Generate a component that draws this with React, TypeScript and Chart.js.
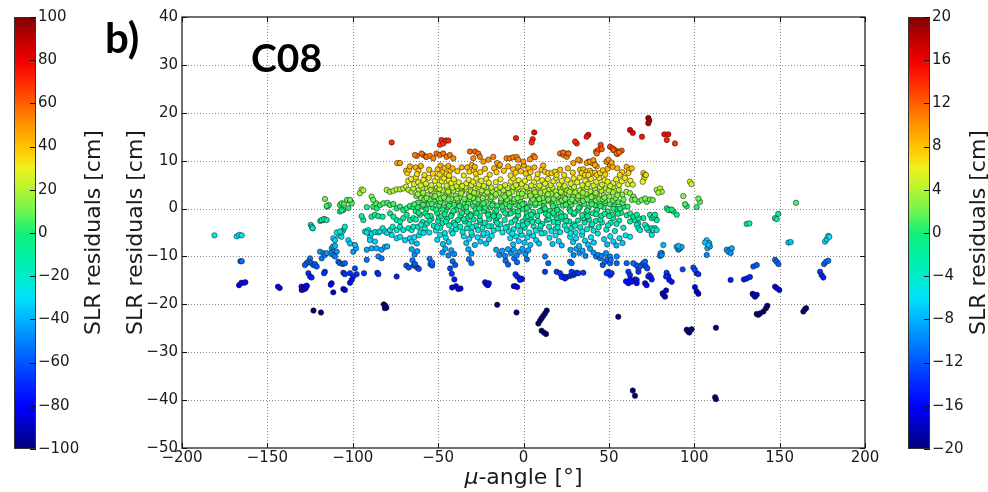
import React, { useEffect, useRef } from "react";
import { Chart, registerables } from "chart.js";

Chart.register(...registerables);

// ---------- axes / colour scales ----------
const X_TICKS = [-200, -150, -100, -50, 0, 50, 100, 150, 200];
const Y_TICKS = [-50, -40, -30, -20, -10, 0, 10, 20, 30, 40];
const LEFT_BAR_TICKS = [-100, -80, -60, -40, -20, 0, 20, 40, 60, 80, 100];
const RIGHT_BAR_TICKS = [-20, -16, -12, -8, -4, 0, 4, 8, 12, 16, 20];
const COLOR_MIN = -20;
const COLOR_MAX = 20;
const AXIS_LABEL = "SLR residuals [cm]";
const X_LABEL_SYMBOL = "\u03bc";
const X_LABEL_REST = "-angle [\u00b0]";
const PANEL_LETTER = "b)";
const STATION = "C08";

// colour map stops (position 0..1 over COLOR_MIN..COLOR_MAX)
const CMAP_POS = [0, 0.05, 0.1, 0.15, 0.2, 0.25, 0.3, 0.35, 0.4, 0.45, 0.5, 0.55, 0.6, 0.65, 0.7, 0.75, 0.8, 0.85, 0.9, 0.95, 1];
const CMAP_RGB = [
  [0, 0, 120], [0, 0, 190], [0, 0, 255], [0, 40, 255], [0, 85, 255], [0, 130, 255], [0, 180, 255],
  [0, 225, 250], [0, 235, 200], [0, 240, 160], [20, 240, 120], [110, 245, 80], [180, 245, 50],
  [240, 240, 30], [255, 195, 0], [255, 150, 0], [255, 95, 0], [255, 40, 0], [240, 0, 0], [190, 0, 0], [128, 0, 0],
];

// ---------- data: [mu-angle, residual] pairs, flat ----------
const orangeTop = [
  -77.2, 13.8, -62.5, 11.0, -58.7, 11.2, -57.1, 10.8, -63.6, 11.2, -59.7, 11.5, -56.7, 10.8, -54.8, 11.0,
  -52.8, 10.5, -50.9, 11.5, -48.9, 11.2, -47.0, 11.5, -45.0, 10.8, -43.1, 11.2, -41.1, 10.5, -31.4, 11.9,
  -28.4, 11.9, -26.5, 11.5, -25.5, 10.8, -29.4, 10.5, -23.5, 9.8, -20.6, 10.2, -17.7, 10.8, -15.4, 9.5,
  -13.8, 9.1, -9.9, 10.5, -7.9, 10.5, -6.0, 10.7, -4.0, 10.8, -3.1, 10.2,
  -49.0, 13.3, -48.0, 14.3, -47.0, 13.6, -45.4, 14.2, -44.0, 14.2, -4.4, 14.7, 6.3, 15.9, 5.4, 14.5,
  4.8, 13.8, 38.0, 15.4, 37.0, 15.0, 31.2, 13.6, 30.2, 14.0, 62.4, 16.4, 64.0, 15.8, 73.1, 18.9,
  73.7, 18.4, 73.1, 17.8, 69.4, 15.0, 82.5, 15.5, 84.8, 15.5, 83.9, 14.3, 88.7, 13.6,
  42.5, 11.9, 43.8, 12.2, 45.2, 13.3, 45.8, 12.4, 42.9, 11.5, 50.7, 12.9, 52.2, 12.6, 53.6, 12.2,
  55.5, 11.9, 57.5, 12.1, 54.9, 11.4, 21.4, 11.5, 23.3, 11.2, 25.3, 10.8, 26.2, 11.5, 29.2, 9.5,
  33.1, 10.0, 37.0, 9.5, 38.9, 9.8, 40.9, 10.1, 41.9, 9.1, 48.7, 9.8, 5.8, 11.0, 6.7, 10.7,
  3.8, 10.3, -0.1, 9.8, 52.6, 12.2, 54.6, 11.5, 56.1, 11.7, 49.7, 10.2, 51.6, 9.6, 23.3, 11.7,
  26.3, 11.5, 32.1, 10.2, -73.9, 9.5, -72.3, 9.5,
];

const yellowHigh = [
  -63.2, 8.6, -61.5, 7.9, -62.4, 7.2, -60.1, 8.9, -50.3, 8.2, -48.6, 9.0, -47.5, 7.6, -46.2, 8.5,
  -45.1, 7.2, -44.0, 8.9, -42.8, 7.9, -41.5, 8.4, -43.6, 6.9, -49.2, 7.1, -33.0, 8.6, -31.6, 7.7,
  -30.4, 9.1, -29.1, 8.0, -27.8, 7.3, -28.5, 8.7, -17.2, 8.4, -15.8, 7.6, -14.2, 8.9, -6.1, 8.2,
  -4.6, 7.5, -3.2, 8.7, -1.5, 7.8, 0.2, 9.0, 1.4, 7.3, 2.9, 8.4, 4.1, 7.6, 10.6, 8.1,
  12.6, 7.7, 14.5, 7.4, 16.5, 7.4, 18.4, 7.7, 19.4, 7.0, 11.5, 9.0, 33.1, 8.1, 35.0, 8.2,
  37.0, 7.7, 38.9, 7.9, 39.9, 7.4, 41.9, 7.5, 42.9, 7.0, 44.8, 7.4, 34.1, 7.4, 36.0, 7.0,
  38.0, 7.0, 42.9, 8.8, 40.9, 9.6, 40.0, 9.5, 38.0, 9.8, 49.2, 8.3, 50.7, 9.1, 52.2, 8.7,
  48.7, 9.8, 57.8, 7.6, 60.4, 8.7, 62.0, 8.1, 63.4, 8.4, 61.4, 7.4, -68.8, 7.9, -68.0, 7.4,
  -67.0, 8.1, -66.5, 8.8, 70.2, 7.4, 71.2, 7.0, 71.7, 7.0,
  -58.0, 7.0, -55.3, 8.1, -53.1, 7.3, -38.7, 7.8, -36.2, 8.6, -35.0, 6.9, -25.3, 7.6, -22.6, 8.3,
  -19.8, 7.1, -11.5, 7.9, -9.0, 8.8, -7.6, 6.9, 6.4, 8.6, 8.3, 7.2, 21.5, 8.1, 23.8, 7.0,
  26.0, 8.4, 28.9, 7.5, 46.5, 8.0, 47.9, 7.1, 54.9, 8.4, 56.4, 7.0,
];

const yellowMid = [
  -67.5, 5.8, -65.8, 6.2, -64.1, 5.1, -63.0, 6.5, -61.7, 5.5, -60.2, 4.8, -58.6, 6.0, -57.1, 5.2,
  -55.5, 6.4, -54.0, 4.9, -51.9, 5.8, -50.4, 6.5, -49.3, 5.0, -47.8, 5.7, -46.5, 6.3, -45.0, 4.8,
  -43.7, 5.9, -42.3, 5.3, -40.8, 6.1, -39.2, 4.7, -37.9, 5.5, -33.5, 5.3, -32.0, 6.0, -30.6, 4.9,
  -29.4, 5.6, -27.6, 6.3, -26.1, 5.0, -24.7, 5.8, -23.2, 4.7, -21.8, 6.2, -20.3, 5.4, -7.5, 5.6,
  -6.0, 6.3, -4.4, 4.9, -2.8, 5.9, -1.1, 5.1, 6.2, 5.5, 7.9, 6.3, 9.4, 4.8, 11.0, 5.9,
  12.7, 5.2, 14.3, 6.2, 15.9, 4.9, 17.6, 5.7, 19.2, 6.4, 20.8, 5.0, 22.5, 5.8, 24.1, 4.7,
  25.8, 6.0, 31.4, 5.5, 32.9, 6.5, 34.5, 4.9, 36.2, 5.8, 37.8, 5.1, 39.5, 6.2, 41.0, 4.8,
  42.7, 5.6, 44.3, 6.4, 46.0, 5.0, 47.4, 5.9, 52.5, 5.3, 54.3, 6.1, 56.0, 4.9, 57.6, 5.7,
  59.4, 6.4, 61.1, 5.1, 62.6, 5.8, 70.6, 6.3, 69.8, 5.6, 97.5, 5.6, 98.3, 5.1,
  -35.9, 4.7, -16.2, 5.5, -13.5, 6.1, -10.8, 4.9, 0.9, 5.8, 3.3, 6.4, 4.6, 4.8, 27.7, 5.2,
  29.4, 6.3, 49.3, 5.6, 50.8, 4.7, 64.0, 5.0,
];

const limeBand = [
  -94.8, 4.0, -95.8, 3.2, -93.8, 3.8, -89.0, 2.5, -88.0, 1.8, -80.1, 3.9, -78.2, 3.5, -76.2, 3.7,
  -74.3, 4.0, -72.3, 4.0, -70.4, 4.2, -68.8, 4.6, -67.4, 3.9, -65.5, 3.5, -64.5, 4.2, -101.6, 1.8,
  -62.8, 2.6, -61.3, 3.9, -60.0, 2.2, -58.7, 3.3, -57.5, 4.3, -56.2, 2.8, -55.0, 1.9, -53.6, 3.6,
  -52.4, 2.4, -51.1, 4.1, -49.8, 3.0, -48.5, 2.1, -47.3, 3.8, -46.0, 2.6, -44.8, 4.3, -43.5, 3.2,
  -42.2, 2.0, -41.0, 3.7, -39.7, 2.7, -38.4, 4.1, -37.2, 2.3, -35.9, 3.5, -34.6, 2.0, -33.4, 4.0,
  -32.1, 2.9, -30.8, 3.6, -29.6, 2.2, -28.3, 4.2, -27.0, 3.0, -25.7, 2.4, -24.5, 3.8, -23.2, 2.7,
  -21.9, 4.4, -20.6, 3.1, -19.4, 2.0, -18.1, 3.6, -16.8, 2.5, -15.5, 4.0, -14.3, 3.3, -13.0, 2.1,
  -11.7, 3.8, -10.4, 2.8, -9.2, 4.3, -7.9, 2.3, -6.6, 3.5, -5.3, 2.0, -4.1, 4.1, -2.8, 3.0,
  -1.5, 2.4, -0.2, 3.7, 1.1, 2.6, 2.3, 4.2, 3.6, 3.2, 4.9, 2.1, 6.2, 3.9, 7.4, 2.8,
  8.7, 4.4, 10.0, 3.3, 11.3, 2.2, 12.5, 3.7, 13.8, 2.6, 15.1, 4.0, 16.4, 3.1, 17.6, 2.0,
  18.9, 3.6, 20.2, 2.5, 21.5, 4.3, 22.7, 3.2, 24.0, 2.3, 25.3, 3.9, 26.6, 2.9, 27.8, 4.1,
  29.1, 2.4, 30.4, 3.4, 31.7, 2.1, 32.9, 3.8, 34.2, 2.7, 35.5, 4.4, 36.8, 3.0, 38.0, 2.2,
  39.3, 3.6, 40.6, 2.6, 41.9, 4.0, 43.1, 3.1, 44.4, 2.0, 45.7, 3.7, 47.0, 2.8, 48.2, 4.2,
  50.1, 2.5, 52.3, 3.4, 54.0, 2.2, 55.8, 3.9, 57.9, 2.9, 60.3, 3.5, 62.4, 3.2, 64.4, 2.5,
  63.4, 1.8, 65.3, 1.9, 69.2, 1.8, 71.2, 2.1, 74.1, 1.9, 75.7, 1.8, -58.0, 1.9, -50.5, 4.4,
  -44.0, 1.9, -36.5, 4.4, -26.4, 1.9, -18.8, 4.4, -9.8, 1.9, -3.4, 4.4, 5.5, 1.9, 14.5, 1.9,
  23.4, 4.4, 28.5, 1.9, 37.4, 1.9, 46.4, 1.9, 51.0, 4.4, 58.6, 1.9, 78.0, 3.9, 80.0, 4.2,
  81.0, 3.5, 79.0, 3.3, 93.6, 2.6, 102.4, 2.1,
  -61.9, 3.0, -59.3, 4.3, -56.8, 2.2, -54.3, 3.9, -51.7, 2.6, -49.2, 4.1, -46.6, 2.3, -44.1, 3.5,
  -41.6, 4.4, -39.1, 2.1, -36.5, 3.2, -34.0, 4.5, -31.5, 2.5, -28.9, 3.3, -26.4, 4.5, -23.9, 2.2,
  -21.3, 3.4, -18.8, 2.4, -16.2, 3.0, -13.7, 4.5, -11.1, 2.5, -8.6, 3.2, -6.0, 4.5, -3.5, 2.2,
  -0.9, 3.1, 1.6, 4.5, 4.1, 2.7, 6.7, 3.4, 9.2, 2.0, 11.8, 4.5, 14.3, 3.0, 16.9, 4.4,
  19.4, 2.8, 21.9, 3.5, 24.5, 2.0, 27.0, 3.5, 29.6, 4.5, 32.1, 2.6, 34.7, 3.3, 37.2, 4.5,
  39.7, 2.4, 42.3, 3.3, 44.8, 4.5, 47.4, 2.3, 49.9, 3.8, 52.5, 4.5, 55.0, 2.8,
];

const greenBand = [
  -115.3, 0.55, -102.6, 0.1, -105.5, -0.3, -107.5, -0.6, -106.5, -0.4, -100.6, 1.1, -91.8, 0.3, -88.0, 0.4,
  -86.0, 0.05, -86.4, 1.1, -84.0, 0.75, -82.1, 1.1, -79.8, 1.2, -78.2, 0.75, -76.2, 0.95, -74.3, 0.05,
  -72.3, 0.4, -70.4, -0.3, -68.4, 0.05, -66.5, 0.55, -64.5, 0.25, -89.0, -1.7, -87.0, -1.3, -85.0, -1.6,
  -82.5, -1.7, -78.2, -1.0, -76.2, -1.7, -68.4, -1.3, -94.8, -1.6,
  -63.1, -0.6, -61.9, 1.2, -60.6, -1.3, -59.4, 0.4, -58.1, 1.6, -56.9, -0.2, -55.6, 0.9, -54.4, -1.5,
  -53.1, 0.1, -51.9, 1.4, -50.6, -0.9, -49.4, 0.6, -48.1, -1.6, -46.9, 1.1, -45.6, -0.4, -44.4, 0.3,
  -43.1, 1.5, -41.9, -1.1, -40.6, 0.8, -39.4, -0.3, -38.1, 1.3, -36.9, -1.4, -35.6, 0.2, -34.4, 1.0,
  -33.1, -0.7, -31.9, 1.6, -30.6, -1.2, -29.4, 0.5, -28.1, -0.1, -26.9, 1.2, -25.6, -1.5, -24.4, 0.7,
  -23.1, -0.5, -21.9, 1.4, -20.6, -1.0, -19.4, 0.3, -18.1, 1.1, -16.9, -0.8, -15.6, 0.6, -14.4, -1.6,
  -13.1, 1.5, -11.9, -0.3, -10.6, 0.9, -9.4, -1.2, -8.1, 0.2, -6.9, 1.3, -5.6, -0.6, -4.4, 0.8,
  -3.1, -1.4, -1.9, 1.6, -0.6, -0.1, 0.6, 1.0, 1.9, -1.0, 3.1, 0.4, 4.4, 1.4, 5.6, -0.7,
  6.9, 0.7, 8.1, -1.5, 9.4, 1.2, 10.6, -0.3, 11.9, 0.5, 13.1, -1.1, 14.4, 1.6, 15.6, -0.5,
  16.9, 0.9, 18.1, -1.3, 19.4, 0.1, 20.6, 1.3, 21.9, -0.9, 23.1, 0.6, 24.4, -1.6, 25.6, 1.1,
  26.9, -0.2, 28.1, 0.8, 29.4, -1.2, 30.6, 1.5, 31.9, -0.4, 33.1, 0.4, 34.4, -1.4, 35.6, 1.0,
  36.9, -0.8, 38.1, 0.2, 39.4, 1.4, 40.6, -1.0, 41.9, 0.7, 43.1, -0.3, 44.4, 1.2, 45.6, -1.5,
  46.9, 0.3, 48.1, 1.1, 49.4, -0.6, 50.6, 0.9, 51.9, -1.3, 53.1, 0.5, 54.4, -0.2, 55.6, 1.3,
  57.2, -0.9, 58.8, 0.4, 60.5, -1.4, -62.0, 0.3, -57.5, -1.0, -52.5, 1.7, -47.5, -0.2, -42.5, -1.6,
  -37.5, 0.5, -32.5, 1.0, -27.5, -1.0, -22.5, 0.2, -17.5, -1.6, -12.5, 0.4, -7.5, -1.0, -2.5, 0.5,
  2.5, -1.6, 7.5, 1.7, 12.5, 0.0, 17.5, -0.9, 22.5, 1.7, 27.5, -0.6, 32.5, 1.7, 37.5, -1.6,
  42.5, 1.7, 47.5, -1.1, 52.5, 1.7, 56.5, 0.0, 62.4, -1.0, 64.4, -1.7, 66.3, -1.3, 74.1, -1.3,
  76.1, -1.7, 77.0, -1.3, 83.9, 0.06, 85.8, -0.3, 87.8, -0.6, 89.7, -1.3, 84.9, -0.3, 86.8, -0.2,
  95.6, 0.5, 94.6, 0.9, 103.4, 1.4, 101.4, 0.3, 159.6, 1.2, 72.2, 1.4, 67.3, 1.4,
  -64.0, 0.9, -61.4, -0.9, -58.8, 0.8, -56.3, -1.6, -53.8, 1.0, -51.2, -0.2, -48.7, 1.4, -46.2, -1.2,
  -43.6, 0.6, -41.1, -0.5, -38.6, 1.7, -36.0, -0.9, -33.5, 0.3, -31.0, -1.5, -28.4, 1.4, -25.9, 0.0,
  -23.4, 1.1, -20.8, -1.3, -18.3, 0.7, -15.8, -0.4, -13.2, 1.6, -10.7, -1.0, -8.2, 0.5, -5.6, 1.5,
  -3.1, -0.6, -0.6, 0.9, 2.0, 0.1, 4.5, -1.3, 7.0, 1.1, 9.6, -0.5, 12.1, 1.5, 14.6, -1.4,
  17.2, 0.5, 19.7, -0.3, 22.2, -1.7, 24.8, 0.8, 27.3, 1.4, 29.8, -0.9, 32.4, 0.2, 34.9, 1.6,
  37.4, -0.4, 40.0, 0.9, 42.5, -1.2, 45.0, 0.5, 47.6, 1.6, 50.1, -1.6, 52.6, 0.0, 55.2, -1.1,
  58.0, 1.2, 61.0, 0.4,
];

const tealBand = [
  -118.2, -2.4, -116.8, -2.2, -115.3, -2.4, -124.0, -3.8, -123.5, -4.1, -105.5, -4.5, -104.6, -3.8, -106.5, -5.0,
  -109.4, -5.0, -107.5, -4.8, -92.8, -4.8, -90.9, -4.5, -91.8, -5.0, -88.9, -5.2, -87.0, -4.9, -85.0, -5.0,
  -84.1, -4.8, -82.5, -4.1, -81.1, -4.8, -79.8, -5.1, -78.2, -4.5, -76.6, -3.8, -74.3, -4.5, -72.3, -3.8,
  -70.4, -4.5, -67.4, -4.1, -65.5, -4.5, -64.5, -3.8, -74.3, -2.4, -72.3, -2.7, -70.4, -2.0, -66.5, -2.4,
  -64.5, -2.0, -93.8, -2.4,
  -63.0, -2.3, -61.7, -3.8, -60.4, -4.9, -59.1, -2.8, -57.8, -4.2, -56.5, -3.1, -55.2, -5.0, -53.9, -2.1,
  -52.6, -3.6, -51.3, -4.6, -50.0, -2.6, -48.7, -4.0, -47.4, -3.0, -46.1, -5.1, -44.8, -2.2, -43.5, -3.5,
  -42.2, -4.7, -40.9, -2.9, -39.6, -4.3, -38.3, -2.4, -37.0, -3.8, -35.7, -4.9, -34.4, -2.7, -33.1, -4.1,
  -31.8, -3.2, -30.5, -5.0, -29.2, -2.3, -27.9, -3.6, -26.6, -4.5, -25.3, -2.8, -24.0, -4.0, -22.7, -3.0,
  -21.4, -5.1, -20.1, -2.2, -18.8, -3.7, -17.5, -4.6, -16.2, -2.6, -14.9, -4.2, -13.6, -3.3, -12.3, -5.0,
  -11.0, -2.4, -9.7, -3.8, -8.4, -4.8, -7.1, -2.9, -5.8, -4.3, -4.5, -2.2, -3.2, -3.6, -1.9, -4.7,
  -0.6, -2.7, 0.7, -4.0, 2.0, -3.1, 3.3, -5.0, 4.6, -2.3, 5.9, -3.7, 7.2, -4.6, 8.5, -2.6,
  9.8, -4.1, 11.1, -3.2, 12.4, -5.1, 13.7, -2.4, 15.0, -3.8, 16.3, -4.7, 17.6, -2.8, 18.9, -4.2,
  20.2, -3.0, 21.5, -4.9, 22.8, -2.2, 24.1, -3.6, 25.4, -4.5, 26.7, -2.7, 28.0, -4.0, 29.3, -3.3,
  30.6, -5.0, 31.9, -2.5, 33.2, -3.9, 34.5, -4.8, 35.8, -2.9, 37.1, -4.3, 38.4, -2.3, 39.7, -3.5,
  41.0, -4.6, 42.3, -2.6, 44.0, -3.9, 46.0, -2.9, 48.5, -4.4, 51.0, -3.0, 53.5, -4.7, 56.0, -2.5,
  -58.5, -5.1, -49.5, -1.8, -41.5, -5.2, -32.5, -1.9, -23.5, -5.2, -15.5, -1.9, -6.5, -5.2, 1.5, -1.9,
  10.5, -5.2, 19.5, -1.9, 27.5, -5.2, 36.5, -1.8, 43.5, -5.2, 52.5, -2.0,
  64.3, -1.9, 66.3, -2.4, 67.2, -3.1, 70.2, -2.0, 72.2, -3.8, 73.1, -4.5, 77.0, -1.9, 78.0, -2.4,
  65.3, -2.4, 67.3, -2.0, 75.1, -2.0, 62.4, -2.7, 66.3, -3.4, 67.3, -4.1, 71.2, -3.4, 72.2, -4.1,
  75.1, -4.1, 77.0, -4.1, 68.3, -4.5, 76.0, -4.5, 78.0, -4.5, 130.7, -3.2, 132.3, -3.1, 147.3, -2.0,
  148.3, -2.2, 149.2, -1.1,
  -60.0, -3.4, -55.0, -2.5, -50.5, -3.9, -45.5, -2.7, -40.0, -3.4, -35.0, -2.2, -30.0, -3.9, -25.5, -2.4,
  -20.5, -3.7, -15.5, -3.0, -10.5, -4.0, -5.0, -2.5, -0.3, -3.5, 5.2, -2.8, 10.0, -3.6, 14.8, -2.2,
  20.0, -3.9, 25.0, -2.5, 30.2, -3.6, 35.0, -2.0, 40.2, -3.3, 45.0, -2.3, 49.5, -3.5, 54.5, -3.2,
  58.5, -4.0,
];

const cyanBand = [
  -181.0, -5.6, -168.0, -5.8, -166.5, -5.5, -165.0, -5.6,
  -111.4, -6.2, -110.4, -6.6, -102.6, -6.6, -101.6, -7.3, -98.7, -7.6, -111.4, -7.9, -110.4, -7.8, -89.9, -6.0,
  -89.9, -6.6, -87.0, -6.9, -77.2, -5.5, -74.3, -6.2, -72.3, -5.9, -69.4, -6.6, -66.5, -6.2, -65.5, -6.9,
  -81.1, -8.0, -79.8, -7.9, -108.0, -5.6, -106.6, -5.9,
  -64.0, -6.0, -62.5, -7.3, -61.2, -5.6, -50.5, -6.5, -48.8, -5.5, -47.2, -7.4, -45.5, -6.1, -43.8, -7.0,
  -35.0, -5.8, -33.5, -7.2, -31.8, -6.3, -30.2, -5.5, -28.5, -7.6, -26.9, -6.0, -25.2, -6.9, -23.6, -5.6,
  -21.9, -7.3, -20.3, -6.4, -18.6, -5.7, -7.8, -6.2, -6.1, -7.5, -4.4, -5.8, -2.8, -6.8, -1.1, -5.5,
  0.6, -7.1, 2.3, -6.0, 4.0, -7.6, 5.7, -5.7, 7.4, -6.6, 9.1, -7.3, 15.2, -6.1, 17.0, -7.4,
  18.8, -5.6, 20.6, -6.8, 22.4, -7.7, 27.3, -5.9, 29.0, -7.0, 30.8, -6.2, 32.5, -7.8, 34.3, -5.5,
  36.0, -6.7, 37.8, -7.5, 39.5, -6.0, 41.2, -7.1, 47.2, -6.4, 49.0, -7.5, 50.8, -5.8, 52.6, -6.9,
  54.4, -7.7, 56.2, -6.2, 58.0, -7.2, 59.8, -5.6, 62.4, -5.9, 75.1, -5.5, 81.9, -7.6, 90.7, -7.8,
  107.3, -6.6, 108.8, -7.2, 106.3, -7.1, 108.3, -7.6, 155.1, -7.1, 156.5, -7.0, 176.6, -6.9, 177.6, -6.4,
  178.5, -5.7, 179.1, -5.9,
];

const lightBlueBand = [
  -112.3, -8.3, -111.8, -9.0, -109.4, -9.0, -112.9, -9.3, -111.4, -9.7, -110.4, -10.0, -119.2, -9.0, -117.2, -9.3,
  -116.3, -9.7, -115.3, -9.3, -91.8, -8.6, -88.9, -8.3, -86.0, -8.3, -83.1, -8.6, -85.0, -10.0, -99.7, -9.0,
  -98.1, -8.3,
  -65.5, -8.5, -63.8, -9.6, -62.2, -8.9, -47.5, -9.2, -45.8, -8.4, -44.0, -9.8, -42.3, -8.7, -40.6, -9.5,
  -32.3, -8.5, -30.5, -9.4, -16.0, -8.6, -14.2, -9.7, -12.5, -8.8, -10.8, -9.9, -9.1, -8.5, -7.4, -9.3,
  -5.7, -8.6, -4.0, -9.8, -2.3, -9.0, -0.6, -8.4, 1.1, -9.5, 2.8, -8.7, 27.5, -8.6, 29.3, -9.7,
  31.0, -8.4, 32.8, -9.3, 34.6, -8.8, 36.3, -9.9, 42.5, -10.0, 43.8, -9.7, 44.8, -10.4, 45.8, -9.9,
  48.3, -9.3, 50.7, -10.0, 54.6, -10.0, 51.1, -10.7, 39.0, -8.4, 41.0, -9.2,
  90.7, -8.6, 91.7, -8.3, 107.7, -8.3, 109.2, -7.9, 107.3, -9.7, 119.0, -8.6, 120.9, -8.6, 122.0, -8.3,
  120.0, -9.0, 121.3, -9.3, 81.0, -9.3, 80.0, -9.9, 80.3, -9.3, 80.9, -9.7, 89.7, -8.0, 91.3, -8.3,
  92.6, -8.0,
];

const blueBand = [
  -125.0, -10.4, -126.0, -11.1, -127.0, -11.4, -128.0, -11.8, -124.1, -11.4, -123.1, -11.8, -122.1, -11.6, -121.1, -12.1,
  -108.4, -11.1, -107.5, -11.4, -105.9, -11.6, -104.6, -11.4, -91.8, -10.7, -83.1, -10.4, -118.2, -10.4,
  -165.8, -11.0, -165.0, -11.0,
  -65.0, -10.8, -63.5, -11.6, -55.0, -10.5, -53.5, -11.3, -41.5, -11.0, -40.0, -11.8, -32.0, -10.6, -30.5, -11.4,
  -10.5, -10.9, -9.0, -11.7, -5.5, -10.4, -3.8, -11.2, 2.0, -10.6, 12.6, -10.0, 14.5, -11.4, 27.2, -11.1,
  28.2, -11.4, 46.4, -11.8, 47.7, -11.1, 49.1, -10.6, 50.7, -11.4, 60.4, -11.4, 69.2, -11.8, 70.2, -11.4,
  71.2, -11.1, 71.7, -12.1, 72.5, -12.5, 67.3, -12.5, 68.2, -12.1, 65.9, -11.8, 64.3, -11.4, 54.6, -11.4,
  134.6, -12.1, 136.6, -11.8, 147.3, -10.7, 148.3, -11.1, 149.3, -11.6, 176.0, -11.6, 177.2, -11.1, 178.5, -10.9,
  99.5, -12.3, 100.4, -12.8, 93.2, -12.7,
];

const deepBlueBand = [
  -116.3, -13.2, -116.8, -13.5, -126.0, -13.5, -125.0, -14.2, -124.1, -14.4, -105.5, -13.4, -104.6, -13.7, -101.6, -13.5,
  -98.7, -12.5, -97.7, -13.7, -93.4, -13.5, -99.7, -14.2, -100.6, -14.9, -101.6, -15.5, -85.6, -13.4, -85.0, -13.7,
  -74.3, -14.2, -112.4, -15.6, -112.9, -15.9, -128.0, -16.3, -127.0, -16.2, -129.9, -17.0, -128.9, -16.9, -111.4, -17.5,
  -105.5, -16.8, -104.6, -17.0, -166.6, -16.0, -165.2, -15.5, -163.8, -15.5, -162.9, -15.4, -143.8, -16.3, -142.8, -16.6,
  -130.0, -16.3, -128.7, -16.7, -127.7, -16.7, -127.0, -16.1,
  -43.0, -12.5, -42.0, -13.6, -40.5, -14.8, -39.5, -16.2, -38.2, -16.8, -41.8, -16.5, -36.9, -16.7, -22.5, -15.4,
  -21.7, -15.8, -20.9, -16.0, -20.3, -15.6, -5.7, -16.2, -4.7, -16.2, -3.7, -16.4, -4.7, -13.7, -3.7, -14.2,
  -1.8, -14.6, -0.8, -14.7, -2.05, -14.9, -68.6, -11.9, -67.2, -12.3, -64.3, -11.9, -62.3, -12.3, -61.3, -12.6,
  -54.5, -11.6, -53.5, -11.9,
  19.4, -13.2, 21.4, -13.5, 23.3, -14.2, 25.3, -14.3, 27.2, -14.1, 29.2, -13.9, 28.2, -13.2, 30.2, -13.6,
  31.1, -13.4, 32.1, -13.5, 35.0, -13.4, 24.3, -14.6, 22.4, -14.3, 12.6, -13.2, 49.7, -13.2, 50.7, -13.9,
  51.6, -13.5, 48.7, -13.5, 61.4, -13.2, 62.4, -13.9, 60.0, -15.2, 61.4, -15.6, 65.3, -14.8, 66.3, -14.9,
  67.3, -13.2, 73.1, -14.2, 73.7, -13.9, 74.5, -14.3, 75.1, -14.8, 71.2, -15.6, 72.1, -16.0, 83.8, -13.4,
  84.8, -14.1, 85.4, -14.9, 86.8, -15.3, 83.5, -14.2, 81.9, -18.0, 82.9, -18.4, 83.5, -17.1, 81.5, -17.7,
  100.4, -16.4, 101.4, -17.3, 102.4, -17.8, 121.3, -14.9, 129.1, -14.8, 130.7, -14.6, 132.6, -14.3, 134.6, -18.0,
  135.6, -18.4, 136.6, -18.0, 134.2, -17.8, 147.3, -16.3, 148.3, -16.6, 149.8, -17.0, 173.7, -13.2, 174.6, -13.9,
  175.6, -14.4, 101.4, -13.5, 102.4, -13.7, 62.4, -14.8, 63.4, -15.3, 66.3, -15.6,
];

const outliers = [
  -81.8, -20.0, -80.9, -20.3, -80.3, -20.7, -81.2, -20.8, -123.0, -21.3, -118.6, -21.7, -15.4, -20.1, -4.1, -21.7,
  8.7, -24.0, 9.7, -23.4, 10.6, -22.9, 11.6, -22.4, 12.6, -21.9, 13.6, -21.3, 10.6, -25.5, 12.0, -25.9,
  13.2, -26.2, 55.5, -22.6, 64.0, -38.0, 65.3, -39.1, 95.6, -25.3, 96.5, -25.7, 97.5, -25.5, 98.5, -25.2,
  97.1, -25.9, 112.7, -24.9, 112.2, -39.4, 112.7, -39.8, 137.5, -22.2, 138.5, -21.9, 140.5, -21.5, 142.0, -20.8,
  142.8, -20.3, 136.6, -22.0, 163.9, -21.5, 164.9, -21.0, 165.5, -20.8,
];

const farLeft = [
  -124.6, -3.4, -123.5, -4.1, -119.0, -2.6, -117.4, -2.4, -116.6, -2.2, -116.3, 2.0, -115.0, 0.4, -114.0, 0.75,
  -107.5, 0.75, -106.5, 1.1, -105.1, 1.0, -103.4, 1.8, -101.5, 1.6,
];

// ---------- helpers ----------
const SERIES = [farLeft, outliers, deepBlueBand, blueBand, lightBlueBand, cyanBand, tealBand, greenBand, limeBand, yellowMid, yellowHigh, orangeTop];

function toPoints(flat: number[]) {
  const out: { x: number; y: number }[] = [];
  for (let i = 0; i + 1 < flat.length; i += 2) out.push({ x: flat[i], y: flat[i + 1] });
  return out;
}

function cmap(t: number) {
  const c = Math.max(0, Math.min(1, t));
  let i = 1;
  while (i < CMAP_POS.length - 1 && c > CMAP_POS[i]) i++;
  const p0 = CMAP_POS[i - 1];
  const p1 = CMAP_POS[i];
  const f = (c - p0) / (p1 - p0);
  const a = CMAP_RGB[i - 1];
  const b = CMAP_RGB[i];
  const r = Math.round(a[0] + (b[0] - a[0]) * f);
  const g = Math.round(a[1] + (b[1] - a[1]) * f);
  const bl = Math.round(a[2] + (b[2] - a[2]) * f);
  return `rgb(${r},${g},${bl})`;
}

const fmt = (v: number) => (v < 0 ? "\u2212" + Math.abs(v) : String(v));

const FONT = "'DejaVu Sans'";
const TEXT_COLOR = "#1a1a1a";

function drawColorbar(ctx: CanvasRenderingContext2D, x: number, w: number, top: number, bottom: number, ticks: number[]) {
  const min = ticks[0];
  const max = ticks[ticks.length - 1];
  const grad = ctx.createLinearGradient(0, bottom, 0, top);
  for (let i = 0; i <= 128; i++) grad.addColorStop(i / 128, cmap(i / 128));
  ctx.fillStyle = grad;
  ctx.fillRect(x, top, w, bottom - top);
  ctx.strokeStyle = "#333";
  ctx.lineWidth = 1;
  ctx.setLineDash([]);
  ctx.strokeRect(x + 0.5, top + 0.5, w - 1, bottom - top - 1);
  ctx.fillStyle = TEXT_COLOR;
  ctx.font = `15px ${FONT}`;
  ctx.textAlign = "left";
  ctx.textBaseline = "middle";
  for (const v of ticks) {
    const py = bottom - ((v - min) / (max - min)) * (bottom - top);
    ctx.strokeStyle = "#111";
    ctx.beginPath();
    ctx.moveTo(x + w - 6, Math.round(py) + 0.5);
    ctx.lineTo(x + w, Math.round(py) + 0.5);
    ctx.stroke();
    ctx.fillText(fmt(v), x + w + 2, py);
  }
}

function rotatedText(ctx: CanvasRenderingContext2D, text: string, x: number, y: number) {
  ctx.save();
  ctx.translate(x, y);
  ctx.rotate(-Math.PI / 2);
  ctx.textAlign = "center";
  ctx.textBaseline = "alphabetic";
  ctx.font = `22px ${FONT}`;
  ctx.fillStyle = TEXT_COLOR;
  ctx.fillText(text, 0, 0);
  ctx.restore();
}

const decorPlugin = {
  id: "decor",
  beforeDatasetsDraw(chart: any) {
    const { ctx, chartArea: a, scales } = chart;
    ctx.save();
    ctx.strokeStyle = "rgba(0,0,0,0.45)";
    ctx.lineWidth = 1;
    ctx.setLineDash([1, 2]);
    for (const v of X_TICKS) {
      const px = Math.round(scales.x.getPixelForValue(v)) + 0.5;
      if (px <= a.left + 2 || px >= a.right - 2) continue;
      ctx.beginPath();
      ctx.moveTo(px, a.top);
      ctx.lineTo(px, a.bottom);
      ctx.stroke();
    }
    for (const v of Y_TICKS) {
      const py = Math.round(scales.y.getPixelForValue(v)) + 0.5;
      if (py <= a.top + 2 || py >= a.bottom - 2) continue;
      ctx.beginPath();
      ctx.moveTo(a.left, py);
      ctx.lineTo(a.right, py);
      ctx.stroke();
    }
    ctx.restore();
  },
  afterDraw(chart: any) {
    const { ctx, chartArea: a, scales } = chart;
    ctx.save();
    ctx.setLineDash([]);
    ctx.strokeStyle = "#111";
    ctx.lineWidth = 1.2;
    ctx.strokeRect(a.left, a.top, a.right - a.left, a.bottom - a.top);
    ctx.lineWidth = 1;
    const tl = 5;
    for (const v of X_TICKS) {
      const px = Math.round(scales.x.getPixelForValue(v)) + 0.5;
      ctx.beginPath();
      ctx.moveTo(px, a.bottom);
      ctx.lineTo(px, a.bottom - tl);
      ctx.moveTo(px, a.top);
      ctx.lineTo(px, a.top + tl);
      ctx.stroke();
    }
    for (const v of Y_TICKS) {
      const py = Math.round(scales.y.getPixelForValue(v)) + 0.5;
      ctx.beginPath();
      ctx.moveTo(a.left, py);
      ctx.lineTo(a.left + tl, py);
      ctx.moveTo(a.right, py);
      ctx.lineTo(a.right - tl, py);
      ctx.stroke();
    }
    drawColorbar(ctx, 14, 22, a.top, a.bottom + 1, LEFT_BAR_TICKS);
    drawColorbar(ctx, 908, 22, a.top, a.bottom + 1, RIGHT_BAR_TICKS);
    const midY = (a.top + a.bottom) / 2;
    rotatedText(ctx, AXIS_LABEL, 100, midY);
    rotatedText(ctx, AXIS_LABEL, 142, midY);
    rotatedText(ctx, AXIS_LABEL, 985, midY);
    ctx.fillStyle = TEXT_COLOR;
    ctx.textBaseline = "alphabetic";
    ctx.textAlign = "left";
    ctx.font = `italic 22px ${FONT}`;
    const w1 = ctx.measureText(X_LABEL_SYMBOL).width;
    ctx.font = `22px ${FONT}`;
    const w2 = ctx.measureText(X_LABEL_REST).width;
    const cx = (a.left + a.right) / 2;
    const start = cx - (w1 + w2) / 2;
    ctx.font = `italic 22px ${FONT}`;
    ctx.fillText(X_LABEL_SYMBOL, start, 484);
    ctx.font = `22px ${FONT}`;
    ctx.fillText(X_LABEL_REST, start + w1, 484);
    ctx.fillStyle = "#000";
    ctx.font = `bold 42px Lato`;
    ctx.fillText(PANEL_LETTER, 105, 53);
    ctx.font = `bold 39px Lato`;
    ctx.fillText(STATION, 251, 72);
    ctx.restore();
  },
};

export default function App() {
  const ref = useRef<HTMLCanvasElement | null>(null);
  useEffect(() => {
    document.body.style.margin = "0";
    const points = SERIES.flatMap((s) => toPoints(s));
    const colors = points.map((p) => cmap((p.y - COLOR_MIN) / (COLOR_MAX - COLOR_MIN)));
    Chart.defaults.font.family = FONT;
    const chart = new Chart(ref.current as HTMLCanvasElement, {
      type: "scatter",
      data: {
        datasets: [
          {
            data: points,
            backgroundColor: colors,
            pointBackgroundColor: colors,
            pointBorderColor: "rgba(20,20,20,0.9)",
            pointBorderWidth: 0.6,
            pointRadius: 2.7,
            showLine: false,
          } as any,
        ],
      },
      options: {
        animation: false,
        responsive: false,
        events: [],
        layout: { padding: { left: 140, right: 123, top: 17, bottom: 0 } },
        plugins: { legend: { display: false }, tooltip: { enabled: false } },
        scales: {
          x: {
            type: "linear",
            min: -200,
            max: 200,
            afterBuildTicks: (s: any) => {
              s.ticks = X_TICKS.map((v) => ({ value: v }));
            },
            afterFit: (s: any) => {
              s.height = 44;
            },
            ticks: { autoSkip: false, maxRotation: 0, minRotation: 0, padding: 1, color: TEXT_COLOR, font: { size: 15, family: FONT }, callback: (v: any) => fmt(Number(v)) },
            grid: { display: false, drawTicks: false },
            border: { display: false },
          },
          y: {
            type: "linear",
            min: -50,
            max: 40,
            afterBuildTicks: (s: any) => {
              s.ticks = Y_TICKS.map((v) => ({ value: v }));
            },
            afterFit: (s: any) => {
              s.width = 42;
            },
            ticks: { autoSkip: false, padding: 4, color: TEXT_COLOR, font: { size: 15, family: FONT }, callback: (v: any) => fmt(Number(v)) },
            grid: { display: false, drawTicks: false },
            border: { display: false },
          },
        },
      },
      plugins: [decorPlugin],
    });
    return () => chart.destroy();
  }, []);
  return (
    <div style={{ width: 988, height: 492, position: "relative", overflow: "hidden", background: "#fff" }}>
      <canvas ref={ref} width={988} height={492} style={{ display: "block" }} />
    </div>
  );
}
